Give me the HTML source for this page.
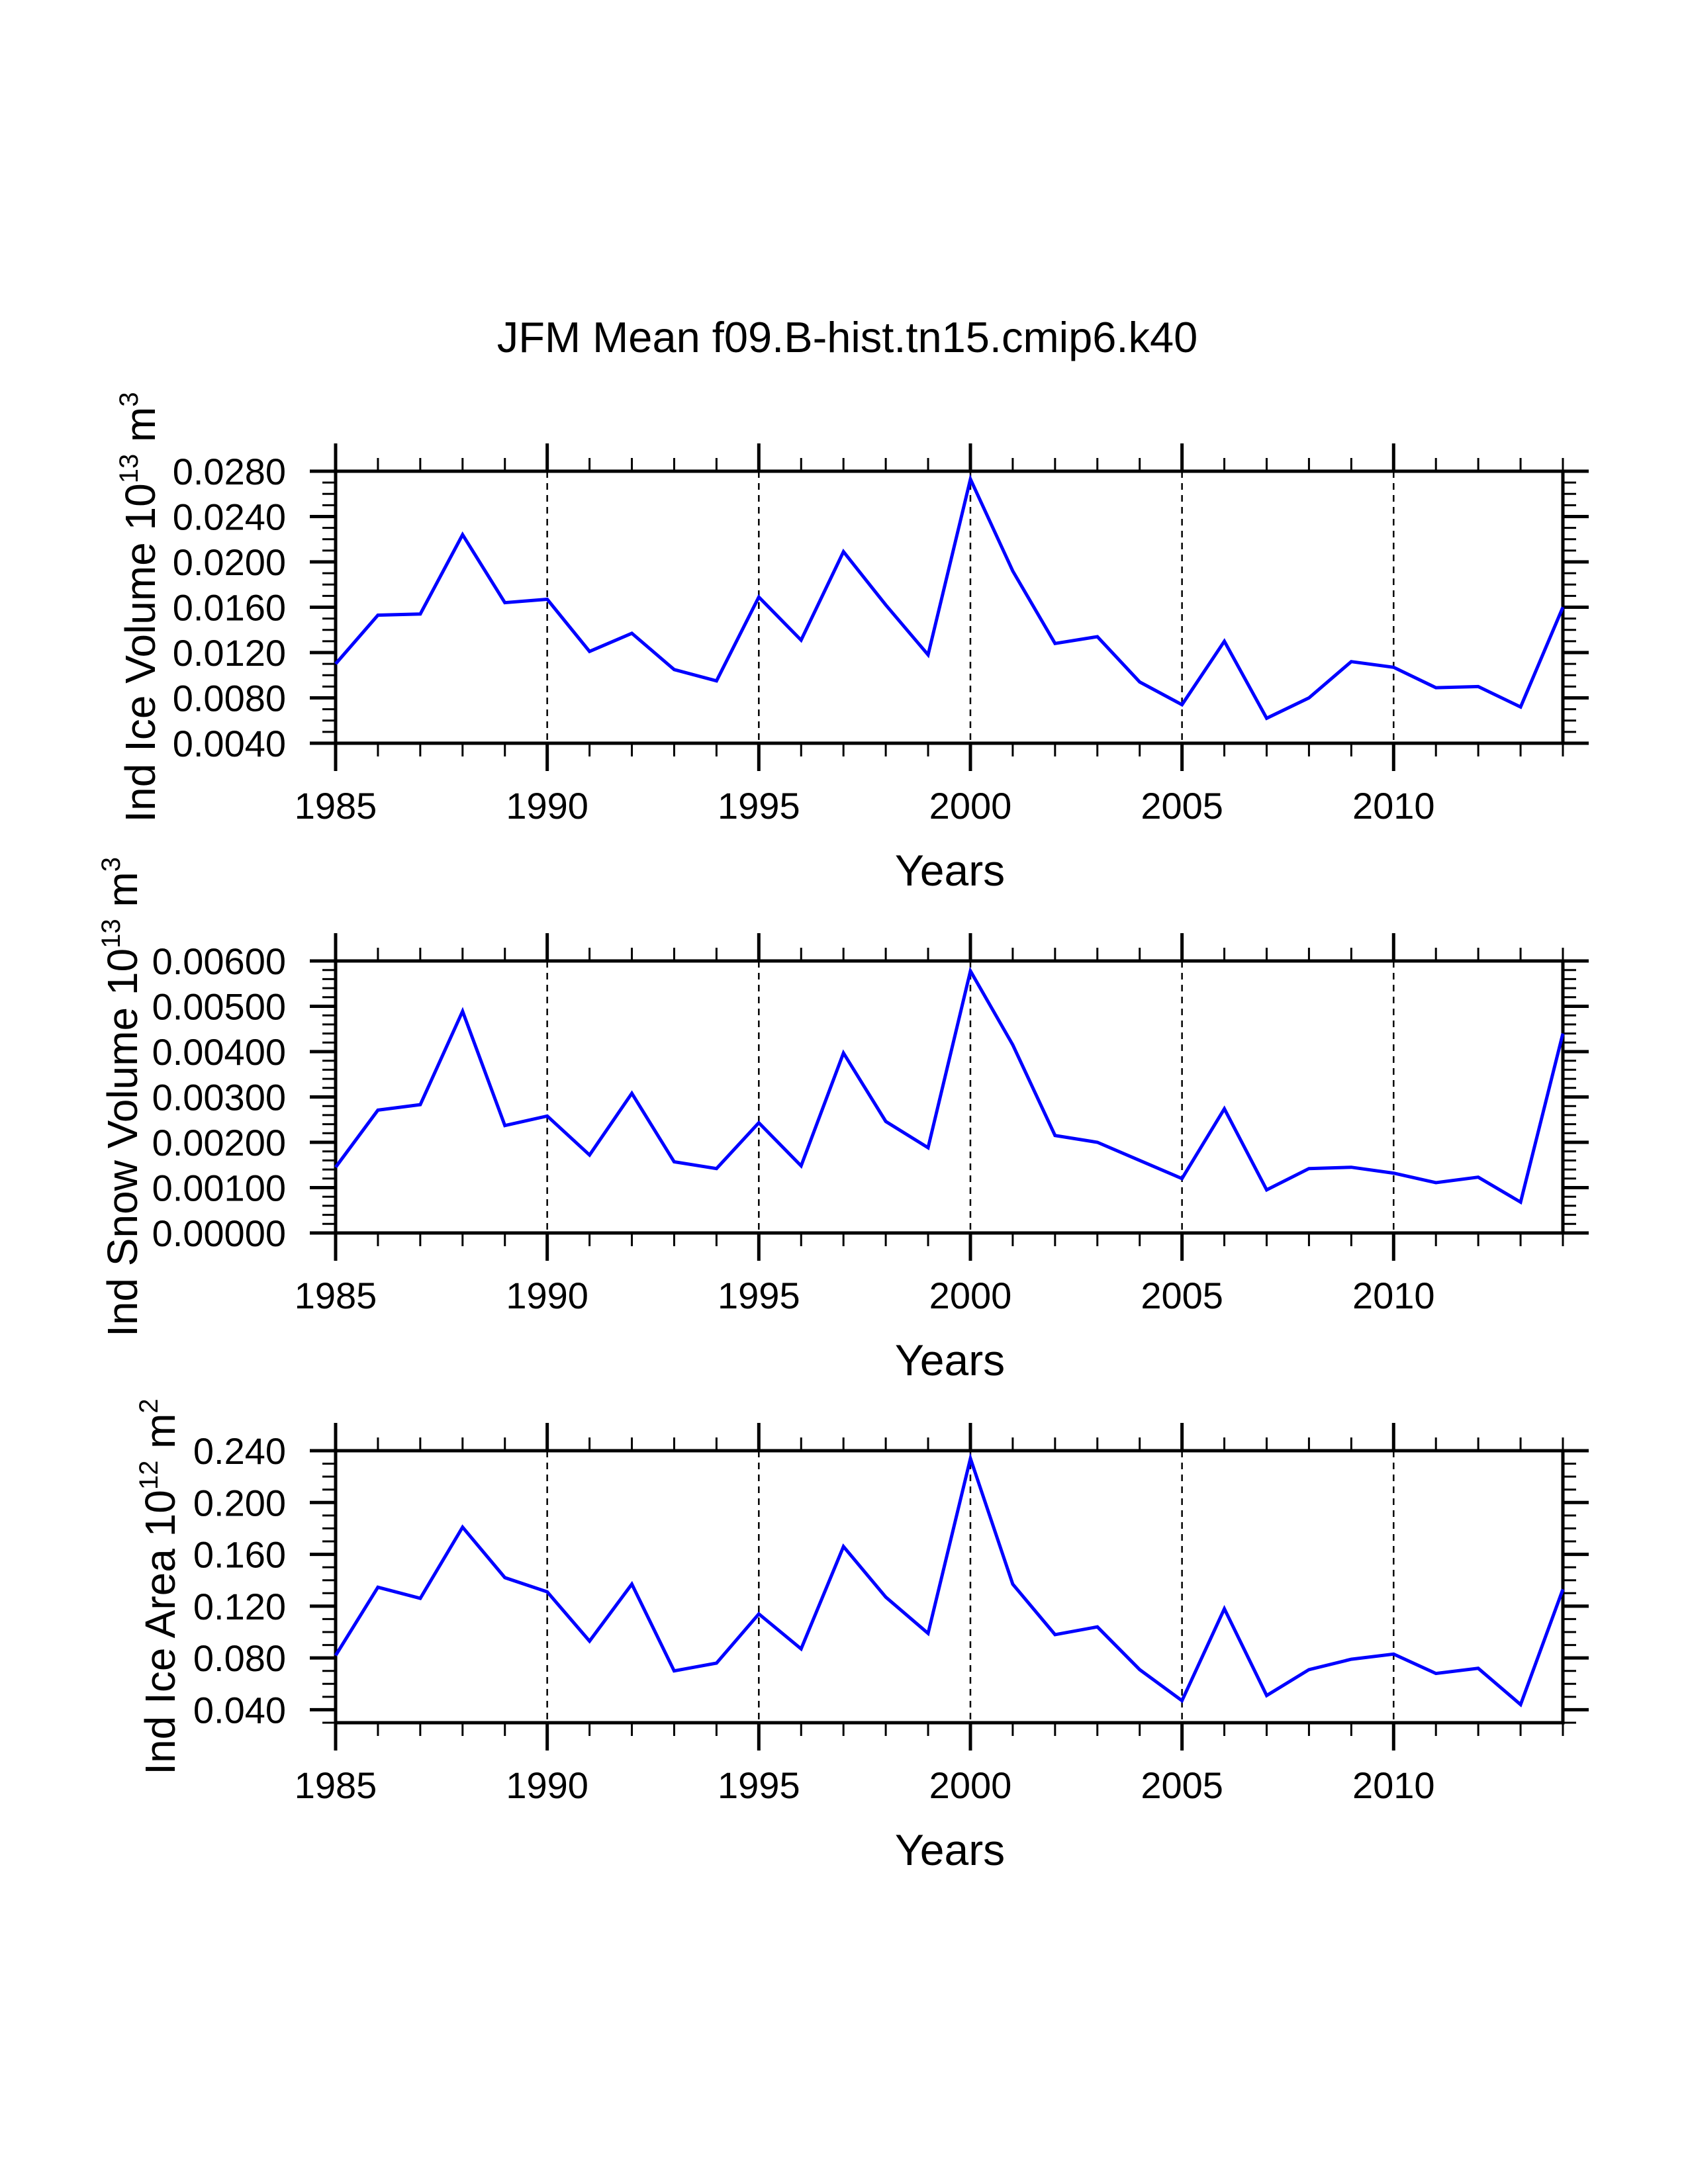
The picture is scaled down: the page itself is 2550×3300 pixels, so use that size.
<!DOCTYPE html>
<html><head><meta charset="utf-8"><style>
html,body{margin:0;padding:0;background:#fff;}
svg{display:block;}
text{font-family:"Liberation Sans",Arial,sans-serif;fill:#000;}
</style></head><body>
<svg id="chart" width="2550" height="3300" viewBox="0 0 2550 3300" xmlns="http://www.w3.org/2000/svg">
<text x="1280" y="532" font-size="65" text-anchor="middle">JFM Mean f09.B-hist.tn15.cmip6.k40</text>
</svg>
<script>
const years = [1985,1986,1987,1988,1989,1990,1991,1992,1993,1994,1995,1996,1997,1998,1999,2000,2001,2002,2003,2004,2005,2006,2007,2008,2009,2010,2011,2012,2013,2014];
const iceVolume = [0.0110,0.0153,0.0154,0.0224,0.0164,0.0167,0.0121,0.0137,0.0105,0.0095,0.0169,0.0131,0.0209,0.0162,0.0118,0.0273,0.0192,0.0128,0.0134,0.0094,0.0074,0.0130,0.0062,0.0080,0.0112,0.0107,0.0089,0.0090,0.0072,0.0160];
const snowVolume = [0.00145,0.00271,0.00283,0.00489,0.00237,0.00258,0.00172,0.00308,0.00157,0.00142,0.00243,0.00148,0.00397,0.00246,0.00188,0.00578,0.00415,0.00215,0.00200,0.00160,0.00120,0.00274,0.00095,0.00142,0.00145,0.00132,0.00111,0.00123,0.00068,0.00440];
const iceArea = [0.0819,0.1346,0.126,0.181,0.142,0.131,0.093,0.137,0.070,0.076,0.114,0.087,0.166,0.127,0.099,0.234,0.137,0.098,0.104,0.071,0.047,0.118,0.051,0.071,0.079,0.083,0.068,0.072,0.044,0.133];
const xTickLabels = ["1985","1990","1995","2000","2005","2010"];
const iceVolumeTicks = ["0.0040","0.0080","0.0120","0.0160","0.0200","0.0240","0.0280"];
const snowVolumeTicks = ["0.00000","0.00100","0.00200","0.00300","0.00400","0.00500","0.00600"];
const iceAreaTicks = ["0.040","0.080","0.120","0.160","0.200","0.240"];

const NS = "http://www.w3.org/2000/svg";
const svg = document.getElementById('chart');
const X0 = 507, X1 = 2361, PH = 411;
function xs(y){ return X0 + (y - 1985) * (X1 - X0) / 29; }
function mk(tag, attrs, parent){
  const e = document.createElementNS(NS, tag);
  for (const k in attrs) e.setAttribute(k, attrs[k]);
  (parent || svg).appendChild(e);
  return e;
}
const panels = [
  {name:'ice-volume', top:712, ymin:0.004, ymax:0.028, data:iceVolume, ticks:iceVolumeTicks, minor:0.001, title:'Ind Ice Volume 10', exp:'13', unit:' m', uexp:'3', tx:234},
  {name:'snow-volume', top:1452, ymin:0, ymax:0.006, data:snowVolume, ticks:snowVolumeTicks, minor:0.0002, title:'Ind Snow Volume 10', exp:'13', unit:' m', uexp:'3', tx:207},
  {name:'ice-area', top:2192, ymin:0.03, ymax:0.24, data:iceArea, ticks:iceAreaTicks, minor:0.01, title:'Ind Ice Area 10', exp:'12', unit:' m', uexp:'2', tx:264}
];
panels.forEach(p => {
  const g = mk('g', {});
  
  
  const T = p.top, B = p.top + PH;
  const ys = v => B - (v - p.ymin) / (p.ymax - p.ymin) * PH;
  [1990,1995,2000,2005,2010].forEach(yr => {
    const l = mk('line', {x1:xs(yr), x2:xs(yr), y1:T, y2:B, stroke:'#000', 'stroke-width':2.5, 'stroke-dasharray':'10,8'}, g);
    
    
  });
  years.forEach(yr => {
    const maj = (yr % 5 === 0);
    const len = maj ? 42 : 20, w = maj ? 5 : 3;
    mk('line', {x1:xs(yr), x2:xs(yr), y1:T, y2:T-len, stroke:'#000', 'stroke-width':w}, g);
    mk('line', {x1:xs(yr), x2:xs(yr), y1:B, y2:B+len, stroke:'#000', 'stroke-width':w}, g);
  });
  xTickLabels.forEach(s => {
    const t = mk('text', {x:xs(+s), y:B+114, 'font-size':56, 'text-anchor':'middle'}, g);
    
    
    t.textContent = s;
  });
  const n = Math.round((p.ymax - p.ymin) / p.minor);
  for (let i = 0; i <= n; i++){
    const v = p.ymin + i * p.minor, y = ys(v);
    mk('line', {x1:X0, x2:X0-20, y1:y, y2:y, stroke:'#000', 'stroke-width':3}, g);
    mk('line', {x1:X1, x2:X1+20, y1:y, y2:y, stroke:'#000', 'stroke-width':3}, g);
  }
  p.ticks.forEach(s => {
    const y = ys(parseFloat(s));
    mk('line', {x1:X0, x2:X0-39, y1:y, y2:y, stroke:'#000', 'stroke-width':5}, g);
    mk('line', {x1:X1, x2:X1+39, y1:y, y2:y, stroke:'#000', 'stroke-width':5}, g);
    const t = mk('text', {x:432, y:y+20, 'font-size':56, 'text-anchor':'end'}, g);
    
    
    t.textContent = s;
  });
  const fr = mk('rect', {x:X0, y:T, width:X1-X0, height:PH, fill:'none', stroke:'#000', 'stroke-width':5}, g);
  
  
  const pts = p.data.map((v, i) => xs(years[i]).toFixed(1) + ',' + ys(v).toFixed(1)).join(' ');
  const pl = mk('polyline', {points:pts, fill:'none', stroke:'#0000ff', 'stroke-width':5, 'stroke-linejoin':'miter'}, g);
  
  
  const xt = mk('text', {x:1435, y:B+215, 'font-size':66, 'text-anchor':'middle'}, g);
  
  
  xt.textContent = 'Years';
  const cy = T + PH/2;
  const yt = mk('text', {x:0, y:0, 'font-size':64, 'text-anchor':'middle', transform:'translate(' + p.tx + ',' + cy + ') rotate(-90)'}, g);
  
  
  yt.appendChild(document.createTextNode(p.title));
  const s1 = mk('tspan', {dy:-26, 'font-size':40}, yt); s1.textContent = p.exp;
  const s2 = mk('tspan', {dy:26}, yt); s2.textContent = p.unit;
  const s3 = mk('tspan', {dy:-26, 'font-size':40}, yt); s3.textContent = p.uexp;
});
</script>
</body></html>
